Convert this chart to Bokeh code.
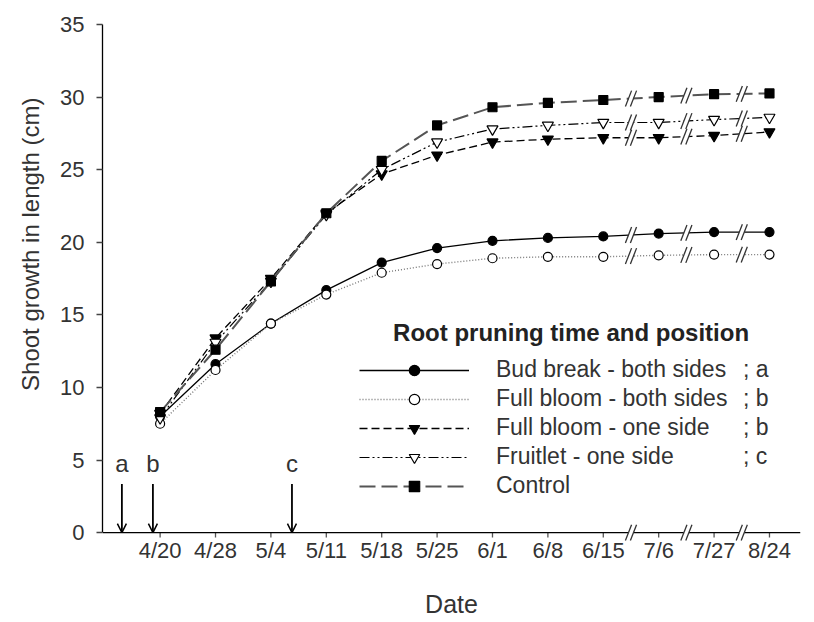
import numpy as np
from bokeh.plotting import figure
from bokeh.models import (Range1d, FixedTicker, Legend, LegendItem, Label,
                          Arrow, OpenHead, Title)
from bokeh.embed import file_html
from bokeh.resources import INLINE

# ---------------- data ----------------
dates = ["4/20", "4/28", "5/4", "5/11", "5/18", "5/25", "6/1", "6/8",
         "6/15", "7/6", "7/27", "8/24"]
bud_break = [8.0, 11.6, 14.4, 16.7, 18.6, 19.6, 20.1, 20.3, 20.4, 20.6, 20.7, 20.7]
fb_both = [7.5, 11.2, 14.4, 16.4, 17.9, 18.5, 18.9, 19.0, 19.0, 19.1, 19.15, 19.15]
fb_one = [8.2, 13.4, 17.5, 22.0, 24.7, 26.0, 26.9, 27.1, 27.2, 27.2, 27.35, 27.6]
fruitlet = [7.9, 13.1, 17.3, 21.9, 25.0, 26.9, 27.8, 28.05, 28.25, 28.25, 28.45, 28.6]
control = [8.3, 12.6, 17.3, 22.0, 25.6, 28.05, 29.3, 29.6, 29.8, 30.0, 30.2, 30.25]
series_labels = ["Bud break - both sides", "Full bloom - both sides",
                 "Full bloom - one side", "Fruitlet - one side", "Control"]
series_groups = ["; a", "; b", "; b", "; c"]
y_ticks = [0, 5, 10, 15, 20, 25, 30, 35]
break_after = [8, 9, 10]          # axis breaks after 6/15, 7/6, 7/27
arrow_x = [-0.69, -0.13, 2.38]    # root pruning times (in date-slot units)
arrow_labels = ["a", "b", "c"]

# ---------------- styles ----------------
FONT = "Liberation Sans"
TXT = "#333333"
styles = [
    dict(line_color="black", line_dash="solid", line_width=1.3,
         marker="circle", fill="black", size=9),
    dict(line_color="#777777", line_dash="1 2", line_width=1.4,
         marker="circle", fill="white", size=9),
    dict(line_color="black", line_dash="8 4", line_width=1.3,
         marker="inverted_triangle", fill="black", size=11),
    dict(line_color="black", line_dash="10 3 2 3 2 3", line_width=1.2,
         marker="inverted_triangle", fill="white", size=11),
    dict(line_color="#555555", line_dash="16 6", line_width=2.0,
         marker="square", fill="black", size=9),
]

W, H = 814, 622
FL, FR, FT, FB = 101, 800, 24, 543
xr = Range1d(-1.04, 11.56)
yr = Range1d(-0.75, 35)
PX_PER_Y = (FB - FT) / (yr.end - yr.start)


def dx(px):
    return xr.start + (px - FL) * (xr.end - xr.start) / (FR - FL)


def dy(py):
    return yr.start + (FB - py) / PX_PER_Y


p = figure(width=W, height=H, x_range=xr, y_range=yr, output_backend="svg",
           toolbar_location=None, min_border_left=FL, min_border_right=W - FR,
           min_border_top=FT, min_border_bottom=H - FB)
p.outline_line_color = None
p.xgrid.grid_line_color = None
p.ygrid.grid_line_color = None
p.background_fill_color = "white"

# x axis (line and ticks drawn as glyphs at y=0 so that breaks can cut it)
x_idx = list(range(len(dates)))
xa = p.xaxis[0]
xa.ticker = FixedTicker(ticks=x_idx)
xa.major_label_overrides = {i: d for i, d in enumerate(dates)}
xa.axis_line_color = None
xa.major_tick_in = 11
xa.major_tick_out = -6
xa.major_tick_line_color = None
xa.minor_tick_line_color = None
xa.major_label_standoff = -6
xa.major_label_text_font = FONT
xa.major_label_text_font_size = "22px"
xa.major_label_text_color = TXT
xa.axis_label = "Date"
xa.axis_label_standoff = 24
xa.axis_label_text_font = FONT
xa.axis_label_text_font_size = "25px"
xa.axis_label_text_font_style = "normal"
xa.axis_label_text_color = TXT

# y axis
ya = p.yaxis[0]
ya.bounds = (0, 35)
ya.ticker = FixedTicker(ticks=y_ticks)
ya.axis_line_color = "black"
ya.axis_line_width = 1.3
ya.major_tick_in = 0
ya.major_tick_out = 6
ya.major_tick_line_color = "#444444"
ya.major_tick_line_width = 1.3
ya.minor_tick_line_color = None
ya.major_label_standoff = 12
ya.major_label_text_font = FONT
ya.major_label_text_font_size = "22px"
ya.major_label_text_color = TXT

p.add_layout(Title(text="Shoot growth in length (cm)", align="right", offset=73,
                   standoff=28, text_font=FONT, text_font_size="24px",
                   text_font_style="normal", text_color=TXT), "left")

tick_len = 5 / PX_PER_Y
p.segment(x0=x_idx, y0=[0] * len(x_idx), x1=x_idx, y1=[-tick_len] * len(x_idx),
          line_color="#555555", line_width=1.3)
p.segment(x0=[xr.start], y0=[0], x1=[xr.end], y1=[0], line_color="black", line_width=1.3)

all_series = [bud_break, fb_both, fb_one, fruitlet, control]
items = []
for s, st, lab in zip(all_series, styles, series_labels):
    lr = p.line(x_idx, s, line_color=st["line_color"], line_dash=st["line_dash"],
                line_width=st["line_width"])
    sr = p.scatter(x_idx, s, marker=st["marker"], size=st["size"],
                   fill_color=st["fill"], line_color="black", line_width=1.2)
    items.append(LegendItem(label=lab, renderers=[lr, sr]))

# axis breaks: white gaps, then double slashes
bx, by = [], []
for i in break_after:
    xb = i + 0.5
    bx.append(xb); by.append(0.0)
    for s in all_series:
        bx.append(xb); by.append((s[i] + s[i + 1]) / 2.0)
p.rect(x=bx, y=by, width=5, height=14, width_units="screen", height_units="screen",
       fill_color="white", line_color=None)
sx = [v - 0.045 for v in bx] + [v + 0.045 for v in bx]
sy = by + by
p.scatter(x=sx, y=sy, marker="dash", size=17, angle=1.2, line_color="#333333",
          line_width=1.3)

# arrows for root pruning times
for xa_, la in zip(arrow_x, arrow_labels):
    p.add_layout(Arrow(end=OpenHead(size=9, line_width=1.5, line_color="black"),
                       x_start=xa_, y_start=3.35, x_end=xa_, y_end=0.0,
                       line_width=1.8, line_color="black"))
    p.add_layout(Label(x=xa_, y=4.75, text=la, text_align="center",
                       text_baseline="middle", text_font=FONT,
                       text_font_size="24px", text_color=TXT))

# legend
leg = Legend(items=items, location=(257, 44), glyph_width=110, glyph_height=26,
             label_height=26, label_standoff=27, spacing=2, padding=0, margin=0,
             border_line_alpha=0, background_fill_alpha=0,
             label_text_font=FONT, label_text_font_size="23px",
             label_text_color=TXT)
p.add_layout(leg)

dummy = p.line(x=[0], y=[0], line_alpha=0)
leg2 = Legend(items=[LegendItem(label=g, renderers=[dummy]) for g in series_groups],
              location=(640, 73), glyph_width=1, glyph_height=26, label_height=26,
              label_standoff=0, spacing=2, padding=0, margin=0,
              border_line_alpha=0, background_fill_alpha=0,
              label_text_font=FONT, label_text_font_size="23px",
              label_text_color=TXT)
p.add_layout(leg2)

p.add_layout(Label(x=dx(392), y=dy(332), text="Root pruning time and position",
                   text_align="left", text_baseline="middle", text_font=FONT,
                   text_font_style="bold", text_font_size="24px", text_color="#222222"))

open("out.html", "w").write(file_html(p, INLINE))
